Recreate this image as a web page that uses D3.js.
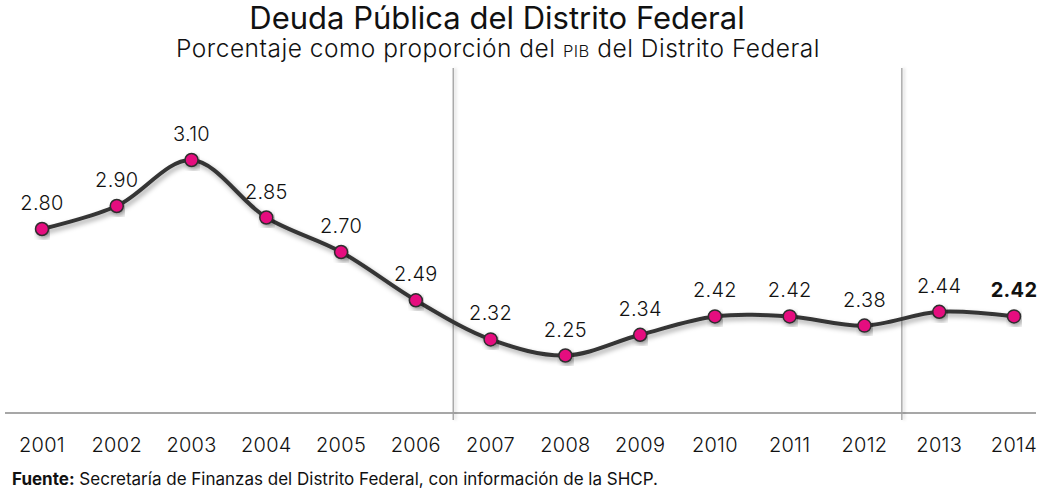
<!DOCTYPE html>
<html>
<head>
<meta charset="utf-8">
<script src="https://cdn.jsdelivr.net/npm/d3@7"></script>
<style>
  body { margin: 0; background: #fff; }
  svg { display: block; font-family: "Inter", "Lato", sans-serif; }
</style>
</head>
<body>
<div id="chart"></div>
<script>
const years = ["2001","2002","2003","2004","2005","2006","2007","2008","2009","2010","2011","2012","2013","2014"]
const deuda = [2.80, 2.90, 3.10, 2.85, 2.70, 2.49, 2.32, 2.25, 2.34, 2.42, 2.42, 2.38, 2.44, 2.42]
const separadores = [["2006","2007"], ["2012","2013"]]

const width = 1041, height = 490
const margin = { top: 68, right: 5, bottom: 77, left: 5 }

const x = d3.scalePoint()
    .domain(years)
    .range([42, 1014])

const y = d3.scaleLinear()
    .domain([2.0, 3.5])
    .range([height - margin.bottom, margin.top])

const svg = d3.select("#chart").append("svg")
    .attr("width", width)
    .attr("height", height)

const defs = svg.append("defs")
const f = defs.append("filter").attr("id", "sombra")
    .attr("x", "-10%").attr("y", "-30%").attr("width", "120%").attr("height", "160%")
f.append("feDropShadow")
    .attr("dx", 2).attr("dy", 3).attr("stdDeviation", 2.5)
    .attr("flood-color", "#000").attr("flood-opacity", 0.35)

// filtro para lineas verticales (bbox sin ancho)
const fv = defs.append("filter").attr("id", "sombraV")
    .attr("filterUnits", "userSpaceOnUse")
    .attr("x", 0).attr("y", 0).attr("width", width).attr("height", height)
fv.append("feDropShadow")
    .attr("dx", 2).attr("dy", 0).attr("stdDeviation", 1.5)
    .attr("flood-color", "#000").attr("flood-opacity", 0.2)

// titulo
svg.append("text")
    .attr("x", 497).attr("y", 29)
    .attr("text-anchor", "middle")
    .attr("font-size", 31)
    .attr("fill", "#111")
    .text("Deuda Pública del Distrito Federal")

const sub = svg.append("text")
    .attr("x", 498).attr("y", 57)
    .attr("text-anchor", "middle")
    .attr("font-size", 24.5)
    .attr("font-weight", 300)
    .attr("letter-spacing", 0.5)
    .attr("fill", "#111")
sub.append("tspan").text("Porcentaje como proporción del ")
sub.append("tspan").attr("font-size", 16.5).text("PIB")
sub.append("tspan").text(" del Distrito Federal")

// eje x
svg.append("line")
    .attr("x1", 5).attr("x2", 1036)
    .attr("y1", y(2.0)).attr("y2", y(2.0))
    .attr("stroke", "#8a8a8a").attr("stroke-width", 1.5)

// lineas verticales
separadores.forEach(([a, b]) => {
  const xm = (x(a) + x(b)) / 2
  svg.append("line")
      .attr("x1", xm).attr("x2", xm)
      .attr("y1", y(3.5)).attr("y2", y(2.0) + 7)
      .attr("stroke", "#a0a0a0").attr("stroke-width", 1.3)
      .attr("filter", "url(#sombraV)")
})

svg.append("g")
    .attr("font-size", 20)
    .attr("font-weight", 300)
    .attr("letter-spacing", 0.3)
    .attr("fill", "#111")
    .attr("text-anchor", "middle")
  .selectAll("text")
  .data(years)
  .join("text")
    .attr("x", d => x(d))
    .attr("y", 452)
    .text(d => d)

// linea
const line = d3.line()
    .x((d, i) => x(years[i]))
    .y(d => y(d))
    .curve(d3.curveCatmullRom.alpha(0.5))

svg.append("path")
    .datum(deuda)
    .attr("d", line)
    .attr("fill", "none")
    .attr("stroke", "#363636")
    .attr("stroke-width", 4)
    .attr("filter", "url(#sombra)")

svg.append("g")
  .selectAll("circle")
  .data(deuda)
  .join("circle")
    .attr("cx", (d, i) => x(years[i]))
    .attr("cy", d => y(d))
    .attr("r", 6.5)
    .attr("fill", "#e5097f")
    .attr("stroke", "#2e2e2e")
    .attr("stroke-width", 1.5)
    .attr("filter", "url(#sombra)")

svg.append("g")
    .attr("font-size", 20)
    .attr("font-weight", 300)
    .attr("letter-spacing", 0.3)
    .attr("fill", "#111")
    .attr("text-anchor", "middle")
  .selectAll("text")
  .data(deuda)
  .join("text")
    .attr("x", (d, i) => x(years[i]))
    .attr("y", d => y(d) - 19)
    .attr("font-weight", (d, i) => i === deuda.length - 1 ? 700 : 300)
    .text(d => d.toFixed(2))

// fuente
const fuente = svg.append("text")
    .attr("x", 12).attr("y", 485)
    .attr("font-size", 17)
    .attr("fill", "#111")
fuente.append("tspan").attr("font-weight", 700).text("Fuente:")
fuente.append("tspan").attr("font-weight", 400).text(" Secretaría de Finanzas del Distrito Federal, con información de la SHCP.")
</script>
</body>
</html>
